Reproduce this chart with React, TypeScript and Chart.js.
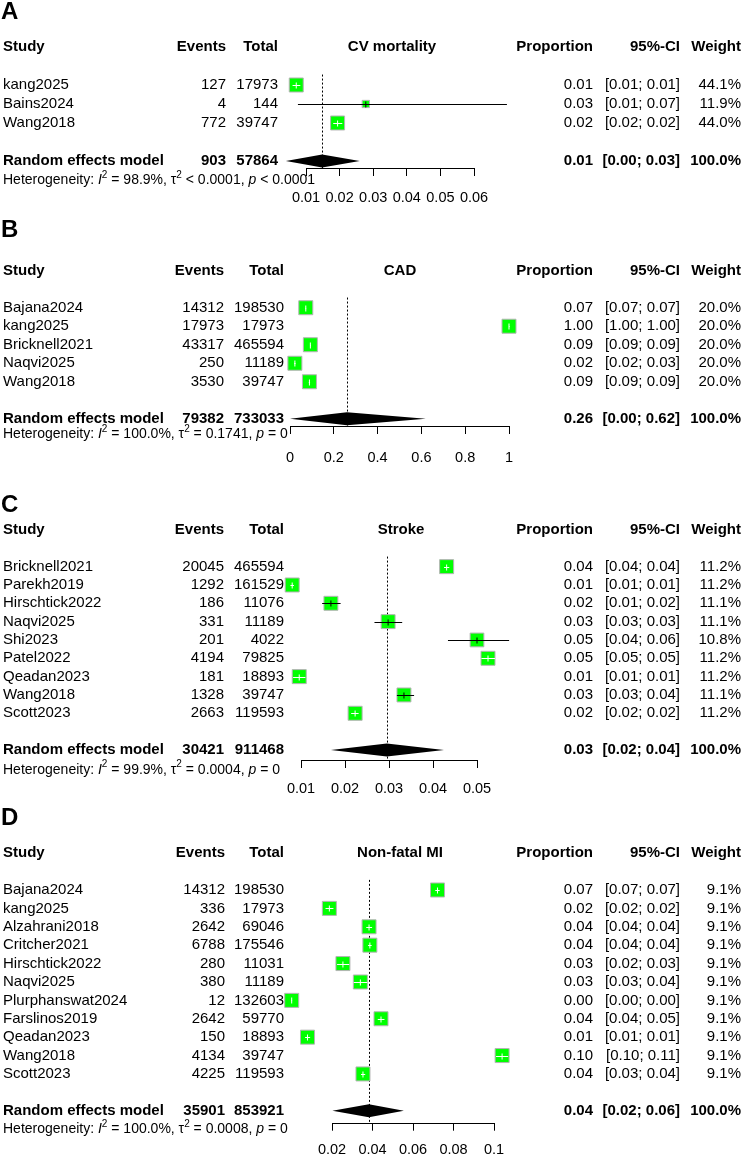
import React, { useEffect, useRef } from 'react';
import { Chart, registerables } from 'chart.js';

Chart.register(...registerables);

const FONT = '"Liberation Sans", Arial, Helvetica, sans-serif';

// ---------- Panel A: CV mortality ----------
const headingA = 'CV mortality';
const studiesA = ['kang2025', 'Bains2024', 'Wang2018'];
const eventsA = [127, 4, 772];
const totalsA = [17973, 144, 39747];
const proportionLabelsA = ['0.01', '0.03', '0.02'];
const ciLabelsA = ['[0.01; 0.01]', '[0.01; 0.07]', '[0.02; 0.02]'];
const weightsA = [44.1, 11.9, 44.0];
const estimatesA = [0.0071, 0.0278, 0.0194];
const lowerA = [0.006, 0.0076, 0.0181];
const upperA = [0.0083, 0.0698, 0.0208];
const pooledLabelsA = ['903', '57864', '0.01', '[0.00; 0.03]', '100.0%'];
const pooledA = [0.004, 0.0148, 0.026];
const heterogeneityA = ['= 98.9%', '< 0.0001', '< 0.0001'];
const tickValuesA = [0.01, 0.02, 0.03, 0.04, 0.05, 0.06];
const tickLabelsA = ['0.01', '0.02', '0.03', '0.04', '0.05', '0.06'];

// ---------- Panel B: CAD ----------
const headingB = 'CAD';
const studiesB = ['Bajana2024', 'kang2025', 'Bricknell2021', 'Naqvi2025', 'Wang2018'];
const eventsB = [14312, 17973, 43317, 250, 3530];
const totalsB = [198530, 17973, 465594, 11189, 39747];
const proportionLabelsB = ['0.07', '1.00', '0.09', '0.02', '0.09'];
const ciLabelsB = ['[0.07; 0.07]', '[1.00; 1.00]', '[0.09; 0.09]', '[0.02; 0.03]', '[0.09; 0.09]'];
const weightsB = [20.0, 20.0, 20.0, 20.0, 20.0];
const estimatesB = [0.0721, 1.0, 0.093, 0.0223, 0.0888];
const lowerB = [0.071, 0.9998, 0.0922, 0.0197, 0.086];
const upperB = [0.0732, 1.0, 0.0938, 0.0252, 0.0916];
const pooledLabelsB = ['79382', '733033', '0.26', '[0.00; 0.62]', '100.0%'];
const pooledB = [0.0, 0.26, 0.62];
const heterogeneityB = ['= 100.0%', '= 0.1741', '= 0'];
const tickValuesB = [0, 0.2, 0.4, 0.6, 0.8, 1];
const tickLabelsB = ['0', '0.2', '0.4', '0.6', '0.8', '1'];

// ---------- Panel C: Stroke ----------
const headingC = 'Stroke';
const studiesC = ['Bricknell2021', 'Parekh2019', 'Hirschtick2022', 'Naqvi2025', 'Shi2023', 'Patel2022', 'Qeadan2023', 'Wang2018', 'Scott2023'];
const eventsC = [20045, 1292, 186, 331, 201, 4194, 181, 1328, 2663];
const totalsC = [465594, 161529, 11076, 11189, 4022, 79825, 18893, 39747, 119593];
const proportionLabelsC = ['0.04', '0.01', '0.02', '0.03', '0.05', '0.05', '0.01', '0.03', '0.02'];
const ciLabelsC = ['[0.04; 0.04]', '[0.01; 0.01]', '[0.01; 0.02]', '[0.03; 0.03]', '[0.04; 0.06]', '[0.05; 0.05]', '[0.01; 0.01]', '[0.03; 0.04]', '[0.02; 0.02]'];
const weightsC = [11.2, 11.2, 11.1, 11.1, 10.8, 11.2, 11.2, 11.1, 11.2];
const estimatesC = [0.0431, 0.008, 0.0168, 0.0298, 0.05, 0.0525, 0.0096, 0.0334, 0.0223];
const lowerC = [0.0425, 0.0076, 0.0148, 0.0267, 0.0434, 0.051, 0.0082, 0.0318, 0.0214];
const upperC = [0.0437, 0.0084, 0.019, 0.033, 0.0573, 0.0541, 0.011, 0.0357, 0.0231];
const pooledLabelsC = ['30421', '911468', '0.03', '[0.02; 0.04]', '100.0%'];
const pooledC = [0.0168, 0.0295, 0.0425];
const heterogeneityC = ['= 99.9%', '= 0.0004', '= 0'];
const tickValuesC = [0.01, 0.02, 0.03, 0.04, 0.05];
const tickLabelsC = ['0.01', '0.02', '0.03', '0.04', '0.05'];

// ---------- Panel D: Non-fatal MI ----------
const headingD = 'Non-fatal MI';
const studiesD = ['Bajana2024', 'kang2025', 'Alzahrani2018', 'Critcher2021', 'Hirschtick2022', 'Naqvi2025', 'Plurphanswat2024', 'Farslinos2019', 'Qeadan2023', 'Wang2018', 'Scott2023'];
const eventsD = [14312, 336, 2642, 6788, 280, 380, 12, 2642, 150, 4134, 4225];
const totalsD = [198530, 17973, 69046, 175546, 11031, 11189, 132603, 59770, 18893, 39747, 119593];
const proportionLabelsD = ['0.07', '0.02', '0.04', '0.04', '0.03', '0.03', '0.00', '0.04', '0.01', '0.10', '0.04'];
const ciLabelsD = ['[0.07; 0.07]', '[0.02; 0.02]', '[0.04; 0.04]', '[0.04; 0.04]', '[0.02; 0.03]', '[0.03; 0.04]', '[0.00; 0.00]', '[0.04; 0.05]', '[0.01; 0.01]', '[0.10; 0.11]', '[0.03; 0.04]'];
const weightsD = [9.1, 9.1, 9.1, 9.1, 9.1, 9.1, 9.1, 9.1, 9.1, 9.1, 9.1];
const estimatesD = [0.0721, 0.0187, 0.0383, 0.0387, 0.0254, 0.034, 0.0001, 0.0442, 0.0079, 0.104, 0.0353];
const lowerD = [0.071, 0.0168, 0.0369, 0.0378, 0.0225, 0.0307, 0.0, 0.0426, 0.0067, 0.101, 0.0343];
const upperD = [0.0732, 0.0207, 0.0398, 0.0396, 0.0285, 0.0374, 0.0002, 0.0459, 0.0092, 0.107, 0.0364];
const pooledLabelsD = ['35901', '853921', '0.04', '[0.02; 0.06]', '100.0%'];
const pooledD = [0.0202, 0.0382, 0.0555];
const heterogeneityD = ['= 100.0%', '= 0.0008', '= 0'];
const tickValuesD = [0.02, 0.04, 0.06, 0.08, 0.1];
const tickLabelsD = ['0.02', '0.04', '0.06', '0.08', '0.1'];

// ---------- Panel tables built from the arrays ----------
const panels = [
  { letter: 'A', heading: headingA, studies: studiesA, events: eventsA, totals: totalsA, propLabels: proportionLabelsA, ciLabels: ciLabelsA, weights: weightsA, est: estimatesA, lo: lowerA, hi: upperA, pooledLabels: pooledLabelsA, pooled: pooledA, het: heterogeneityA, ticks: tickValuesA, tickLabels: tickLabelsA },
  { letter: 'B', heading: headingB, studies: studiesB, events: eventsB, totals: totalsB, propLabels: proportionLabelsB, ciLabels: ciLabelsB, weights: weightsB, est: estimatesB, lo: lowerB, hi: upperB, pooledLabels: pooledLabelsB, pooled: pooledB, het: heterogeneityB, ticks: tickValuesB, tickLabels: tickLabelsB },
  { letter: 'C', heading: headingC, studies: studiesC, events: eventsC, totals: totalsC, propLabels: proportionLabelsC, ciLabels: ciLabelsC, weights: weightsC, est: estimatesC, lo: lowerC, hi: upperC, pooledLabels: pooledLabelsC, pooled: pooledC, het: heterogeneityC, ticks: tickValuesC, tickLabels: tickLabelsC },
  { letter: 'D', heading: headingD, studies: studiesD, events: eventsD, totals: totalsD, propLabels: proportionLabelsD, ciLabels: ciLabelsD, weights: weightsD, est: estimatesD, lo: lowerD, hi: upperD, pooledLabels: pooledLabelsD, pooled: pooledD, het: heterogeneityD, ticks: tickValuesD, tickLabels: tickLabelsD },
];

// ---------- Layout (pixels) ----------
const layouts = [
  { top: 0, height: 214, letterY: 12, headerY: 47, axisY: 168, axisRow: 4.37, hetRow: 5, eventsX: 226, totalX: 278, headingX: 392, px0: 306, pxN: 474, tickPad: 13 },
  { top: 200, height: 272, letterY: 230, headerY: 270.7, axisY: 426, axisRow: 6.39, hetRow: 6.82, eventsX: 224, totalX: 284, headingX: 400, px0: 290, pxN: 509, tickPad: 15 },
  { top: 462, height: 344, letterY: 505, headerY: 530, axisY: 760, axisRow: 10.55, hetRow: 11.08, eventsX: 224, totalX: 284, headingX: 401, px0: 301, pxN: 477, tickPad: 12 },
  { top: 795, height: 372, letterY: 818, headerY: 853.2, axisY: 1122.7, axisRow: 12.65, hetRow: 13, eventsX: 225, totalX: 284, headingX: 400, px0: 332, pxN: 494, tickPad: 11 },
];
const PLOT_LEFT = 270;
const PLOT_RIGHT = 530;
const WIDTH = 744;
const AXIS_H = 42;
const MAX_SQUARE = 14;
const PROP_X = 593;
const CI_X = 680;
const WEIGHT_X = 741;

function squareSide(weights: number[], i: number) {
  const wmax = Math.max(...weights);
  return MAX_SQUARE * Math.sqrt(weights[i] / wmax);
}

function drawHet(ctx: CanvasRenderingContext2D, x: number, y: number, het: string[]) {
  const normal = `14px ${FONT}`;
  const italic = `italic 14px ${FONT}`;
  const sup = `10px ${FONT}`;
  const parts: [string, string, number][] = [
    ['Heterogeneity: ', normal, 0],
    ['I', italic, 0],
    ['2', sup, -5],
    [` ${het[0]}, `, normal, 0],
    ['\u03C4', normal, 0],
    ['2', sup, -5],
    [` ${het[1]}, `, normal, 0],
    ['p', italic, 0],
    [` ${het[2]}`, normal, 0],
  ];
  ctx.textAlign = 'left';
  let cx = x;
  for (const [t, f, dy] of parts) {
    ctx.font = f;
    ctx.fillText(t, cx, y + dy);
    cx += ctx.measureText(t).width;
  }
}

function makePlugin(panel: any, layout: any) {
  return {
    id: 'forest' + panel.letter,
    beforeDatasetsDraw(chart: any) {
      const { ctx, scales } = chart;
      const xs = scales.x;
      const ys = scales.y;
      const px = xs.getPixelForValue(panel.pooled[1]);
      ctx.save();
      ctx.strokeStyle = '#000';
      ctx.lineWidth = 1;
      ctx.setLineDash([2, 2]);
      ctx.beginPath();
      ctx.moveTo(Math.round(px) + 0.5, ys.getPixelForValue(-0.55));
      ctx.lineTo(Math.round(px) + 0.5, ys.getPixelForValue(layout.axisRow));
      ctx.stroke();
      ctx.restore();
    },
    afterDatasetsDraw(chart: any) {
      const { ctx, scales } = chart;
      const xs = scales.x;
      const ys = scales.y;
      ctx.save();
      ctx.lineWidth = 1;
      // confidence intervals
      panel.est.forEach((e: number, i: number) => {
        const cx = xs.getPixelForValue(e);
        const cy = Math.round(ys.getPixelForValue(i)) + 0.5;
        const lx = xs.getPixelForValue(panel.lo[i]);
        const hx = xs.getPixelForValue(panel.hi[i]);
        const half = squareSide(panel.weights, i) / 2;
        const inside = lx >= cx - half - 0.3 && hx <= cx + half + 0.3;
        ctx.strokeStyle = inside ? '#ffffff' : '#000000';
        ctx.beginPath();
        ctx.moveTo(lx, cy);
        ctx.lineTo(Math.max(hx, lx + 0.6), cy);
        ctx.moveTo(cx, cy - 3);
        ctx.lineTo(cx, cy + 3);
        ctx.stroke();
      });
      // pooled diamond
      const dy = ys.getPixelForValue(panel.studies.length + 1);
      const [pl, pe, ph] = panel.pooled.map((v: number) => xs.getPixelForValue(v));
      ctx.fillStyle = '#000';
      ctx.beginPath();
      ctx.moveTo(pl, dy);
      ctx.lineTo(pe, dy - 6.5);
      ctx.lineTo(ph, dy);
      ctx.lineTo(pe, dy + 6.5);
      ctx.closePath();
      ctx.fill();
      // axis baseline (between first and last tick)
      const ay = Math.round(chart.chartArea.bottom) + 0.5;
      ctx.strokeStyle = '#000';
      ctx.beginPath();
      ctx.moveTo(xs.getPixelForValue(panel.ticks[0]), ay);
      ctx.lineTo(xs.getPixelForValue(panel.ticks[panel.ticks.length - 1]), ay);
      ctx.stroke();
      ctx.restore();
    },
    afterDraw(chart: any) {
      const { ctx, scales } = chart;
      const ys = scales.y;
      const rowY = (r: number) => ys.getPixelForValue(r);
      ctx.save();
      ctx.fillStyle = '#000';
      ctx.textBaseline = 'middle';
      // panel letter
      ctx.font = `bold 24px ${FONT}`;
      ctx.textAlign = 'left';
      ctx.fillText(panel.letter, 1, layout.letterY - layout.top);
      // header
      const hy = rowY(-2);
      ctx.font = `bold 15px ${FONT}`;
      ctx.textAlign = 'left';
      ctx.fillText('Study', 3, hy);
      ctx.textAlign = 'right';
      ctx.fillText('Events', layout.eventsX, hy);
      ctx.fillText('Total', layout.totalX, hy);
      ctx.fillText('Proportion', PROP_X, hy);
      ctx.fillText('95%-CI', CI_X, hy);
      ctx.fillText('Weight', WEIGHT_X, hy);
      ctx.textAlign = 'center';
      ctx.fillText(panel.heading, layout.headingX, hy);
      // study rows
      ctx.font = `15px ${FONT}`;
      panel.studies.forEach((s: string, i: number) => {
        const y = rowY(i);
        ctx.textAlign = 'left';
        ctx.fillText(s, 3, y);
        ctx.textAlign = 'right';
        ctx.fillText(String(panel.events[i]), layout.eventsX, y);
        ctx.fillText(String(panel.totals[i]), layout.totalX, y);
        ctx.fillText(panel.propLabels[i], PROP_X, y);
        ctx.fillText(panel.ciLabels[i], CI_X, y);
        ctx.fillText(panel.weights[i].toFixed(1) + '%', WEIGHT_X, y);
      });
      // pooled row
      const py = rowY(panel.studies.length + 1);
      ctx.font = `bold 15px ${FONT}`;
      ctx.textAlign = 'left';
      ctx.fillText('Random effects model', 3, py);
      ctx.textAlign = 'right';
      ctx.fillText(panel.pooledLabels[0], layout.eventsX, py);
      ctx.fillText(panel.pooledLabels[1], layout.totalX, py);
      ctx.fillText(panel.pooledLabels[2], PROP_X, py);
      ctx.fillText(panel.pooledLabels[3], CI_X, py);
      ctx.fillText(panel.pooledLabels[4], WEIGHT_X, py);
      // heterogeneity
      drawHet(ctx, 3, rowY(layout.hetRow), panel.het);
      ctx.restore();
    },
  };
}

function ForestPanel({ panel, layout }: { panel: any; layout: any }) {
  const ref = useRef<HTMLCanvasElement | null>(null);
  useEffect(() => {
    if (!ref.current) return;
    const t0 = panel.ticks[0];
    const tN = panel.ticks[panel.ticks.length - 1];
    const ppu = (layout.pxN - layout.px0) / (tN - t0);
    const xmin = t0 - (layout.px0 - PLOT_LEFT) / ppu;
    const xmax = tN + (PLOT_RIGHT - layout.pxN) / ppu;
    const chart = new Chart(ref.current, {
      type: 'scatter',
      data: {
        datasets: [
          {
            data: panel.est.map((x: number, i: number) => ({ x, y: i })),
            pointStyle: 'rect',
            pointRadius: panel.weights.map((_: number, i: number) => squareSide(panel.weights, i) / Math.SQRT2),
            pointHoverRadius: panel.weights.map((_: number, i: number) => squareSide(panel.weights, i) / Math.SQRT2),
            backgroundColor: '#00ff00',
            borderColor: '#b4b4b4',
            borderWidth: 1,
            clip: false,
          } as any,
        ],
      },
      options: {
        responsive: false,
        maintainAspectRatio: false,
        animation: false,
        events: [],
        layout: {
          padding: {
            left: PLOT_LEFT,
            right: WIDTH - PLOT_RIGHT,
            top: layout.headerY - layout.top,
            bottom: layout.top + layout.height - layout.axisY - AXIS_H,
          },
        },
        plugins: { legend: { display: false }, tooltip: { enabled: false } },
        scales: {
          x: {
            type: 'linear',
            min: xmin,
            max: xmax,
            afterBuildTicks: (s: any) => {
              s.ticks = panel.ticks.map((v: number) => ({ value: v }));
            },
            afterFit: (s: any) => {
              s.height = AXIS_H;
            },
            ticks: {
              autoSkip: false,
              maxRotation: 0,
              minRotation: 0,
              color: '#000',
              padding: layout.tickPad,
              font: { family: FONT, size: 14.5 },
              callback: (_v: any, i: number) => panel.tickLabels[i],
            },
            grid: { display: true, drawOnChartArea: false, drawTicks: true, tickLength: 8, color: '#000', lineWidth: 1 },
            border: { display: false },
          },
          y: { type: 'linear', min: -2, max: layout.axisRow, reverse: true, display: false },
        },
      } as any,
      plugins: [makePlugin(panel, layout)],
    });
    return () => chart.destroy();
  }, [panel, layout]);
  return (
    <canvas
      ref={ref}
      width={WIDTH}
      height={layout.height}
      style={{ position: 'absolute', left: 0, top: layout.top, display: 'block' }}
    />
  );
}

export default function App() {
  return (
    <div style={{ position: 'absolute', left: 0, top: 0, width: WIDTH, height: 1154, overflow: 'hidden', background: '#fff' }}>
      {panels.map((p, i) => (
        <ForestPanel key={p.letter} panel={p} layout={layouts[i]} />
      ))}
    </div>
  );
}
